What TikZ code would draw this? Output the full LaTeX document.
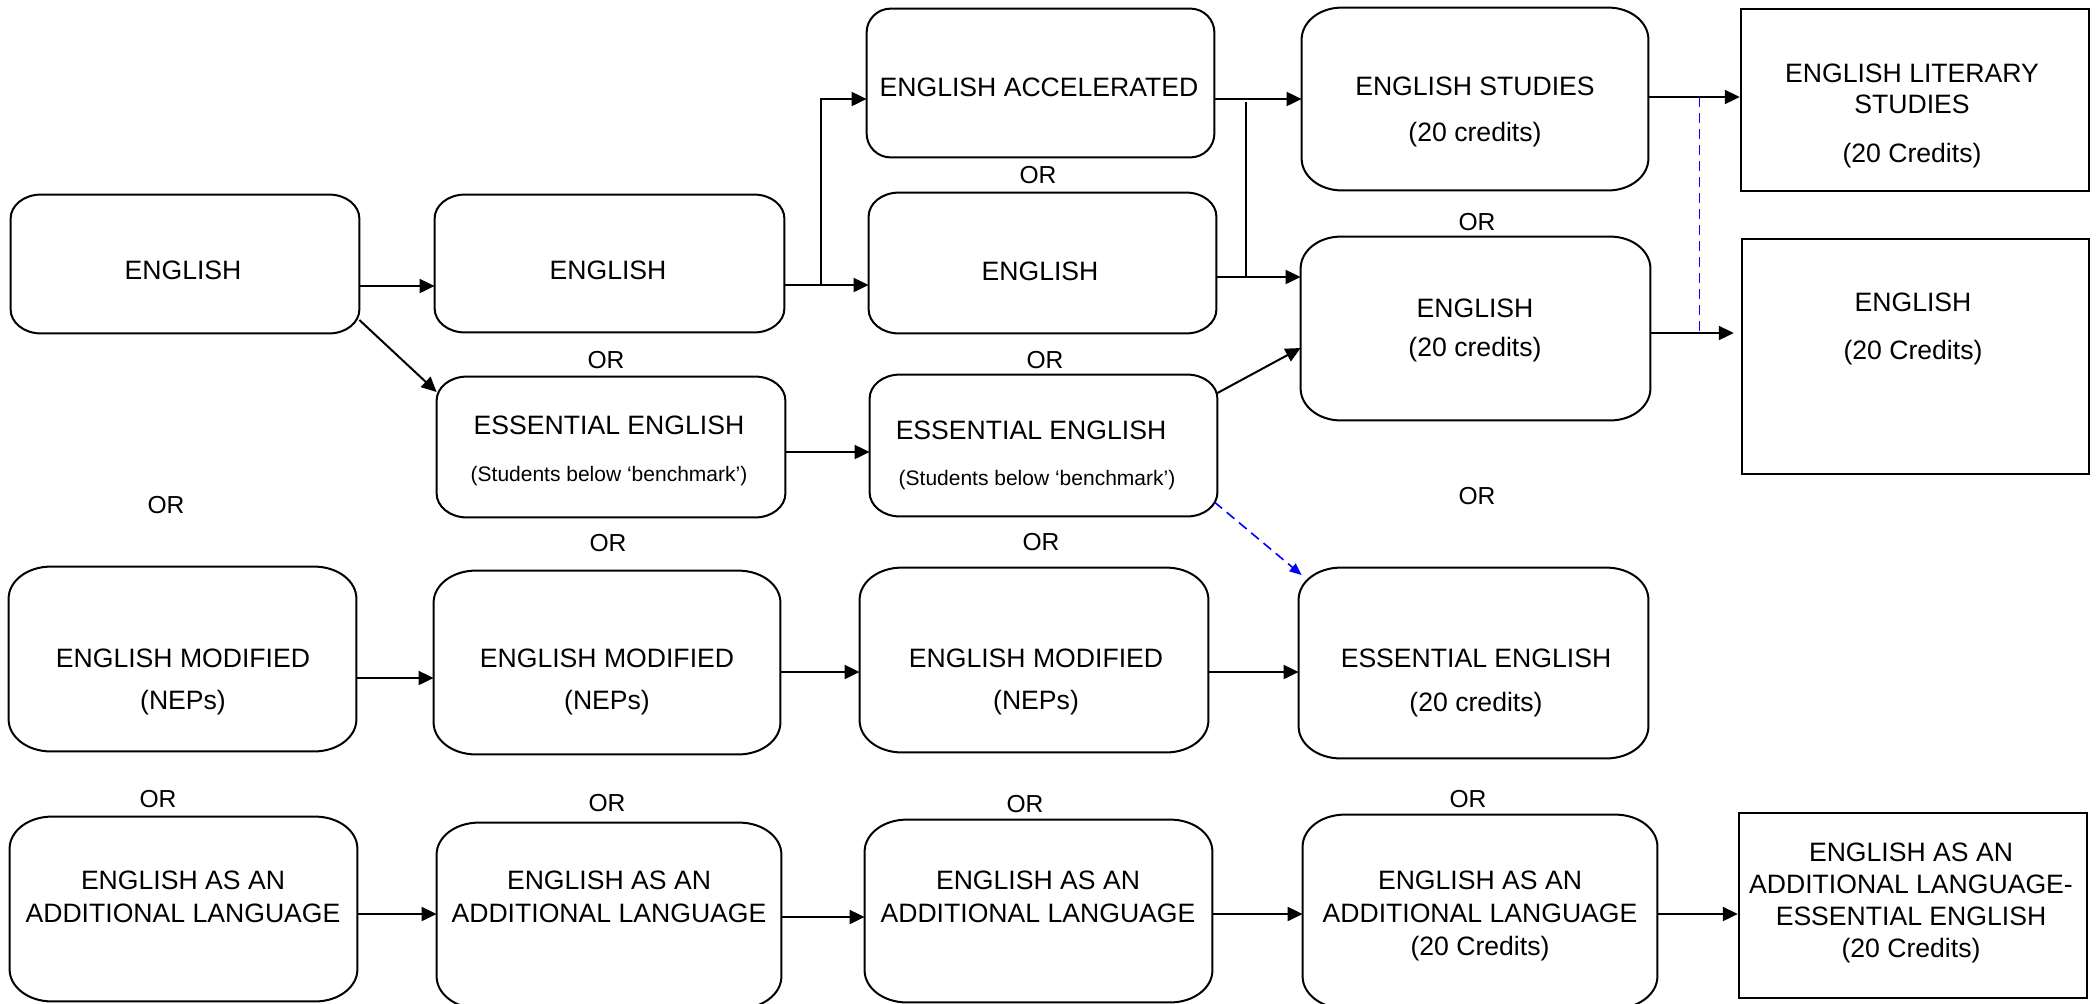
\documentclass[tikz,border=0pt]{standalone}
\usepackage{fontspec}
\setmainfont{Liberation Sans}
\usetikzlibrary{arrows.meta,calc}
\tikzset{
  bx/.style 2 args={draw=none, inner sep=0pt, minimum width=#1*0.5pt, minimum height=#2*0.5pt},
  rectbox/.style 2 args={draw, line width=1.2pt, inner sep=0pt, minimum width=#1*0.5pt, minimum height=#2*0.5pt},
  txt/.style={align=center, font=\fontsize{13.3}{16.5}\selectfont, inner sep=0pt},
  ortxt/.style={font=\fontsize{12.3}{14}\selectfont, inner sep=0pt},
  boxline/.style={line width=1pt},
  arr/.style={line width=1pt, -{Triangle[length=7.5pt,width=7pt]}},
  barr/.style={blue, line width=0.8pt, dash pattern=on 5pt off 3pt, -{Triangle[length=6pt,width=5pt]}},
  bdash/.style={blue, line width=0.8pt, dash pattern=on 5pt off 3pt},
}
\newcommand\rrbox[3]{%
  \draw[boxline] ($(#1.north west)+(#2,0)$) -- ($(#1.north east)+(-#2,0)$)
    .. controls ($(#1.north east)+(-0.448*#2,0)$) and ($(#1.north east)+(0,0.448*#3)$) .. ($(#1.north east)+(0,#3)$)
    -- ($(#1.south east)+(0,-#3)$)
    .. controls ($(#1.south east)+(0,-0.448*#3)$) and ($(#1.south east)+(-0.448*#2,0)$) .. ($(#1.south east)+(-#2,0)$)
    -- ($(#1.south west)+(#2,0)$)
    .. controls ($(#1.south west)+(0.448*#2,0)$) and ($(#1.south west)+(0,-0.448*#3)$) .. ($(#1.south west)+(0,-#3)$)
    -- ($(#1.north west)+(0,#3)$)
    .. controls ($(#1.north west)+(0,0.448*#3)$) and ($(#1.north west)+(0.448*#2,0)$) .. cycle;}
\begin{document}
\begin{tikzpicture}[x=0.5pt,y=-0.5pt]
\useasboundingbox (0,0) rectangle (2098,1003);
% ---------- boxes ----------
\node[bx={347}{148}] (acc) at (1040.5,83) {};
\node[bx={346}{182}] (est) at (1475,99) {};
\node[rectbox={348}{182}] (lit) at (1915,100) {};
\node[bx={348}{138}] (e1) at (185,264) {};
\node[bx={349}{137}] (e2) at (609.5,263.5) {};
\node[bx={347}{140}] (e3) at (1042.5,263) {};
\node[bx={349}{183}] (e4) at (1475.5,328.5) {};
\node[rectbox={347}{235}] (e5) at (1915.5,356.5) {};
\node[bx={348}{140}] (s2) at (611,447) {};
\node[bx={347}{141}] (s3) at (1043.5,445.5) {};
\node[bx={347}{184}] (m1) at (182.5,659) {};
\node[bx={346}{183}] (m2) at (607,662.5) {};
\node[bx={348}{184}] (m3) at (1034,660) {};
\node[bx={349}{190}] (m4) at (1473.5,663) {};
\node[bx={347}{184}] (a1) at (183.5,909) {};
\node[bx={344}{185}] (a2) at (609,915.5) {};
\node[bx={347}{182}] (a3) at (1038.5,911) {};
\node[bx={354}{193}] (a4) at (1480,911.5) {};
\node[rectbox={348}{185}] (a5) at (1913,905.5) {};
\rrbox{acc}{24}{24}
\rrbox{est}{40}{32}
\rrbox{e1}{30}{24}
\rrbox{e2}{30}{24}
\rrbox{e3}{30}{24}
\rrbox{e4}{40}{32}
\rrbox{s2}{30}{24}
\rrbox{s3}{30}{24}
\rrbox{m1}{42}{32}
\rrbox{m2}{42}{32}
\rrbox{m3}{42}{32}
\rrbox{m4}{42}{32}
\rrbox{a1}{42}{32}
\rrbox{a2}{42}{32}
\rrbox{a3}{42}{32}
\rrbox{a4}{42}{32}
% ---------- texts ----------
\node[txt] (tacc) at (1039,87) {ENGLISH ACCELERATED};
\node[txt] (test) at (1475,111.8) {ENGLISH STUDIES\\[6.5pt](20 credits)};
\node[txt] (tlit) at (1912,115.8) {ENGLISH LITERARY\\[-1pt]STUDIES\\[8pt](20 Credits)};
\node[txt] (te1) at (183,270) {ENGLISH};
\node[txt] (te2) at (608,270) {ENGLISH};
\node[txt] (te3) at (1040,271) {ENGLISH};
\node[txt] (te4) at (1475,330.3) {ENGLISH\\[3pt](20 credits)};
\node[txt] (te5) at (1913,328.8) {ENGLISH\\[7.5pt](20 Credits)};
\node[txt] (ts2) at (609,450.7) {ESSENTIAL ENGLISH\\[7pt]{\fontsize{10.5}{12}\selectfont (Students below ‘benchmark’)}};
\node[txt] (ts3) at (1037,455.3) {ESSENTIAL ENGLISH\hspace*{6pt}\\[6.5pt]{\fontsize{10.5}{12}\selectfont (Students below ‘benchmark’)}};
\node[txt] (tm1) at (183,681.8) {ENGLISH MODIFIED\\[4.5pt](NEPs)};
\node[txt] (tm2) at (607,681.8) {ENGLISH MODIFIED\\[4.5pt](NEPs)};
\node[txt] (tm3) at (1036,681.8) {ENGLISH MODIFIED\\[4.5pt](NEPs)};
\node[txt] (tm4) at (1476,682.8) {ESSENTIAL ENGLISH\\[5.5pt](20 credits)};
\node[txt] (ta1) at (183,896.5) {ENGLISH AS AN\\ADDITIONAL LANGUAGE};
\node[txt] (ta2) at (609,896.5) {ENGLISH AS AN\\ADDITIONAL LANGUAGE};
\node[txt] (ta3) at (1038,896.5) {ENGLISH AS AN\\ADDITIONAL LANGUAGE};
\node[txt] (ta4) at (1480,916.3) {ENGLISH AS AN\\ADDITIONAL LANGUAGE\\(20 Credits)};
\node[txt] (ta5) at (1911,903) {ENGLISH AS AN\\[-0.5pt]ADDITIONAL LANGUAGE-\\[-0.5pt]ESSENTIAL ENGLISH\\[-0.5pt](20 Credits)};
% ---------- OR labels ----------
\node[ortxt] (or1) at (1038,175) {OR};
\node[ortxt] (or2) at (1477,222) {OR};
\node[ortxt] (or3) at (606,360) {OR};
\node[ortxt] (or4) at (1045,360) {OR};
\node[ortxt] (or5) at (166,505) {OR};
\node[ortxt] (or6) at (1477,496) {OR};
\node[ortxt] (or7) at (608,543) {OR};
\node[ortxt] (or8) at (1041,542) {OR};
\node[ortxt] (or9) at (158,799) {OR};
\node[ortxt] (or10) at (607,803) {OR};
\node[ortxt] (or11) at (1025,804) {OR};
\node[ortxt] (or12) at (1468,799) {OR};
% ---------- connectors ----------
\coordinate (p) at ($(e1.east)+(0,22)$);
\draw[arr] (p) -- (p -| e2.west);
\coordinate (q) at ($(e2.east)+(0,21.5)$);
\draw[arr] (q) -- (q -| e3.west);
\coordinate (qb) at ($(q)+(37,0)$);
\coordinate (qt) at ($(acc.west)+(0,16)$);
\draw[arr] (qb) |- (qt);
\coordinate (r) at ($(acc.east)+(0,16)$);
\draw[arr] (r) -- (r -| est.west);
\coordinate (s) at ($(e3.east)+(0,14)$);
\draw[arr] (s) -- (s -| e4.west);
\coordinate (v1) at ($(r)+(32,3)$);
\draw[line width=1pt] (v1) -- (v1 |- s);
\draw[arr] ($(e1.east)+(0,56)$) -- ($(s2.west)+(0,-55)$);
\coordinate (t) at ($(s2.east)+(0,5)$);
\draw[arr] (t) -- (t -| s3.west);
\draw[arr] ($(s3.east)+(0,-52.5)$) -- ($(e4.west)+(0,19.5)$);
\draw[barr] ($(s3.east)+(-3,56.5)$) -- ($(m4.west)+(3,-88)$);
\coordinate (w) at ($(est.east)+(0,-2)$);
\draw[arr] (w) -- (w -| lit.west);
\coordinate (u) at ($(e4.east)+(0,4.5)$);
\draw[arr] (u) -- ($(u -| e5.west)+(-7,0)$);
\coordinate (bd) at ($(w)+(51,0)$);
\draw[bdash] (bd) -- (bd |- u);
\coordinate (m1p) at ($(m1.east)+(0,19)$);
\draw[arr] (m1p) -- (m1p -| m2.west);
\coordinate (m2p) at ($(m2.east)+(0,9.5)$);
\draw[arr] (m2p) -- (m2p -| m3.west);
\coordinate (m3p) at ($(m3.east)+(0,12)$);
\draw[arr] (m3p) -- (m3p -| m4.west);
\coordinate (a1p) at ($(a1.east)+(0,5)$);
\draw[arr] (a1p) -- (a1p -| a2.west);
\coordinate (a2p) at ($(a2.east)+(0,1.5)$);
\draw[arr] (a2p) -- (a2p -| a3.west);
\coordinate (a3p) at ($(a3.east)+(0,3)$);
\draw[arr] (a3p) -- (a3p -| a4.west);
\coordinate (a4p) at ($(a4.east)+(0,2.5)$);
\draw[arr] (a4p) -- (a4p -| a5.west);
\end{tikzpicture}
\end{document}
